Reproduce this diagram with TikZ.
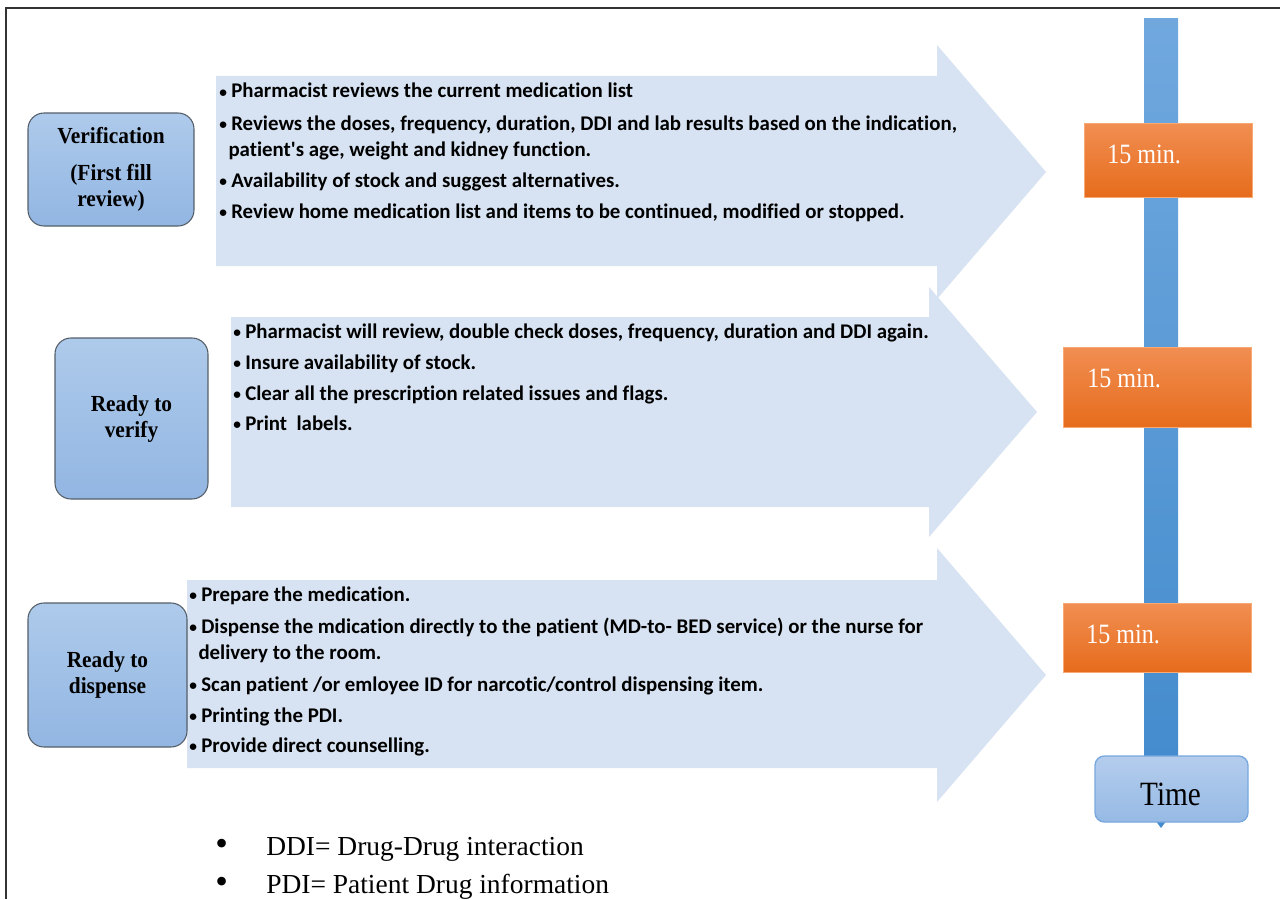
\documentclass[tikz,border=0pt]{standalone}
\usepackage{fontspec}
\setmainfont{Liberation Serif}
\newfontfamily\carfont{Carlito}[Ligatures=NoCommon]
\newfontfamily\tmsfont{Liberation Serif}[FakeStretch=0.93]
\newfontfamily\minfont{Liberation Serif}[FakeStretch=0.86]
\definecolor{arrowfill}{RGB}{215,227,242}
\definecolor{lbtop}{RGB}{174,202,235}
\definecolor{lbbot}{RGB}{146,182,226}
\definecolor{lbborder}{RGB}{85,95,105}
\definecolor{bartop}{RGB}{112,168,222}
\definecolor{barbot}{RGB}{68,140,206}
\definecolor{otop}{RGB}{241,142,82}
\definecolor{obot}{RGB}{230,108,28}
\definecolor{oborder}{RGB}{247,170,115}
\definecolor{tbtop}{RGB}{180,205,237}
\definecolor{tbbot}{RGB}{150,186,229}
\definecolor{tbborder}{RGB}{120,168,222}
\newcommand\bul{\makebox[8.25pt][l]{\hspace{-0.6pt}\fontsize{11.5}{12}\selectfont\raisebox{0.5pt}{\textbullet}}}
\begin{document}
\begin{tikzpicture}[x=0.75pt,y=-0.75pt,
  frame/.style={draw=black!80,line width=1.1pt},
  arrowshape/.style={fill=arrowfill},
  lbox/.style={draw=lbborder,line width=0.8pt,rounded corners=12pt,top color=lbtop,bottom color=lbbot,
    align=center,inner sep=0pt,font=\tmsfont\bfseries\fontsize{17.25}{19.5}\selectfont},
  itm/.style={anchor=base west,inner sep=0pt,font=\carfont\bfseries\fontsize{15.65}{19}\selectfont},
  obox/.style={draw=oborder,line width=0.6pt,top color=otop,bottom color=obot},
  otext/.style={anchor=base west,inner sep=0pt,text=white,font=\minfont\fontsize{21}{24}\selectfont},
  timebox/.style={draw=tbborder,line width=1pt,rounded corners=7pt,top color=tbtop,bottom color=tbbot,inner sep=0pt},
  timetext/.style={anchor=base,inner sep=0pt,font=\minfont\fontsize{25.5}{28}\selectfont},
  note/.style={anchor=base west,inner sep=0pt,font=\fontsize{20.6}{24}\selectfont},
  notebul/.style={anchor=base west,inner sep=0pt,font=\fontsize{27}{24}\selectfont}]
\useasboundingbox (0,0) rectangle (1280,899);
\fill[white] (0,0) rectangle (1280,899);
\draw[frame] (1280,8) -- (6,8) -- (6,899);

% big arrows
\fill[arrowshape] (216,76) -- (937,76) -- (937,45) -- (1046,172) -- (937,299) -- (937,266) -- (216,266) -- cycle;
\fill[arrowshape] (231,317) -- (929,317) -- (929,287) -- (1037,412) -- (929,537) -- (929,507) -- (231,507) -- cycle;
\fill[arrowshape] (187,580) -- (937,580) -- (937,548) -- (1046,675) -- (937,802) -- (937,768) -- (187,768) -- cycle;

% left stage boxes
\node[lbox,minimum width=166*0.75pt,minimum height=113*0.75pt] (b1) at (111,169.5)
  {Verification\\[8pt](First fill\\review)};
\node[lbox,minimum width=153*0.75pt,minimum height=161*0.75pt] (b2) at (131.5,418.5)
  {Ready to\\verify};
\node[lbox,minimum width=159*0.75pt,minimum height=144*0.75pt] (b3) at (107.5,675)
  {Ready to\\dispense};

% arrow 1 text
\node[itm] (a1i1) at (220,98) {\bul Pharmacist reviews the current medication list};
\node[itm] (a1i2) at (220,130) {\bul Reviews the doses, frequency, duration, DDI and lab results based on the indication,};
\node[itm] (a1i2b) at (228.25,156) {patient's age, weight and kidney function.};
\node[itm] (a1i3) at (220,187) {\bul Availability of stock and suggest alternatives.};
\node[itm] (a1i4) at (220,218) {\bul Review home medication list and items to be continued, modified or stopped.};

% arrow 2 text
\node[itm] (a2i1) at (234,338) {\bul Pharmacist will review, double check doses, frequency, duration and DDI again.};
\node[itm] (a2i2) at (234,369) {\bul Insure availability of stock.};
\node[itm] (a2i3) at (234,400) {\bul Clear all the prescription related issues and flags.};
\node[itm] (a2i4) at (234,430) {\bul Print\ \ labels.};

% arrow 3 text
\node[itm] (a3i1) at (190,601) {\bul Prepare the medication.};
\node[itm] (a3i2) at (190,633) {\bul Dispense the mdication directly to the patient (MD-to- BED service) or the nurse for};
\node[itm] (a3i2b) at (198.25,659) {delivery to the room.};
\node[itm] (a3i3) at (190,691) {\bul Scan patient /or emloyee ID for narcotic/control dispensing item.};
\node[itm] (a3i4) at (190,722) {\bul Printing the PDI.};
\node[itm] (a3i5) at (190,752) {\bul Provide direct counselling.};

% timeline
\shade[top color=bartop,bottom color=barbot] (1144,19) rectangle (1178,760);
\fill[barbot] (1155,820) -- (1167,820) -- (1161,828) -- cycle;
\node[timebox,minimum width=153*0.75pt,minimum height=66*0.75pt] (time) at (1171.5,789) {};
\node[timetext] (timelbl) at (1170.5,805) {Time};

\shade[obox] (1084,123) rectangle (1252,197);
\node[otext] (m1) at (1107,163) {15 min.};
\shade[obox] (1063,347) rectangle (1251,427);
\node[otext] (m2) at (1087,387) {15 min.};
\shade[obox] (1063,603) rectangle (1251,672);
\node[otext] (m3) at (1086,643) {15 min.};

% notes
\node[notebul] (n1b) at (215,855) {\textbullet};
\node[note] (n1) at (266,855) {DDI= Drug-Drug interaction};
\node[notebul] (n2b) at (215,893) {\textbullet};
\node[note] (n2) at (266,893) {PDI= Patient Drug information};
\end{tikzpicture}
\end{document}
